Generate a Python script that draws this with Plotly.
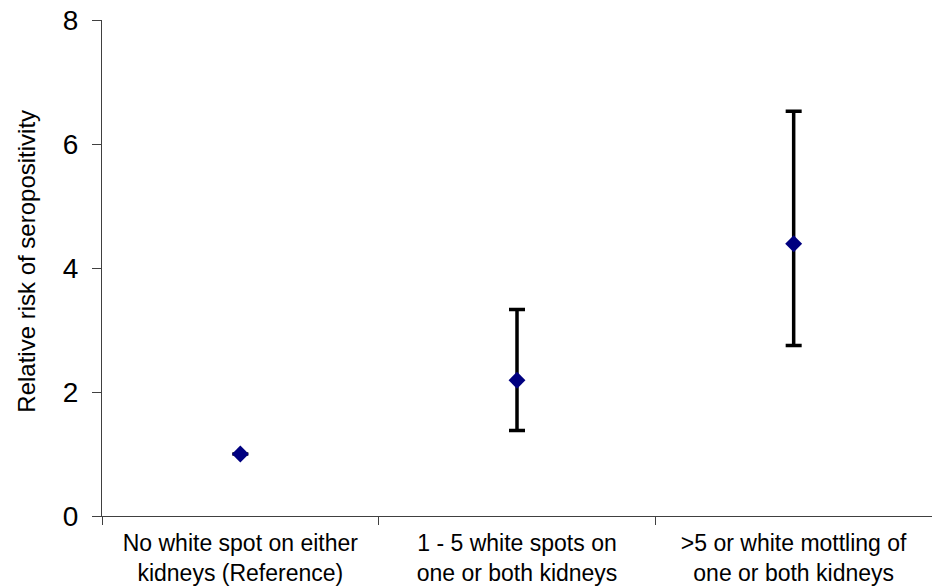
import plotly.graph_objects as go

categories = [
    "No white spot on either<br>kidneys (Reference)",
    "1 - 5 white spots on<br>one or both kidneys",
    ">5 or white mottling of<br>one or both kidneys",
]
relative_risk = [1.0, 2.19, 4.39]
ci_upper = [1.0, 3.33, 6.53]
ci_lower = [1.0, 1.38, 2.75]
y_ticks = [0, 2, 4, 6, 8]
y_title = "Relative risk of seropositivity"

err_plus = [u - v for u, v in zip(ci_upper, relative_risk)]
err_minus = [v - l for v, l in zip(relative_risk, ci_lower)]

fig = go.Figure()
fig.add_trace(go.Scatter(
    x=categories,
    y=relative_risk,
    mode="markers",
    marker=dict(symbol="diamond", size=13, color="#000080"),
    error_y=dict(type="data", symmetric=False, array=err_plus, arrayminus=err_minus,
                 color="black", thickness=3.5, width=8),
    showlegend=False,
))

font_family = "Liberation Sans, Arial, sans-serif"
fig.update_layout(
    width=932, height=588,
    margin=dict(l=102, r=0, t=20, b=72, autoexpand=False),
    paper_bgcolor="white", plot_bgcolor="white",
    font=dict(family=font_family, color="black"),
)
fig.update_xaxes(
    type="category",
    range=[-0.5, len(categories) - 0.5],
    tickson="boundaries",
    automargin=False,
    ticks="outside", ticklen=8, tickcolor="#404040", tickwidth=1,
    ticklabelstandoff=6,
    showline=True, linecolor="#404040", linewidth=1,
    showgrid=False, zeroline=False,
    tickfont=dict(size=23, family=font_family, color="black"),
)
fig.update_yaxes(
    range=[0, 8],
    tickvals=y_ticks,
    automargin=False,
    ticks="outside", ticklen=9, tickcolor="#404040", tickwidth=1,
    ticklabelstandoff=8,
    showline=True, linecolor="#404040", linewidth=1,
    showgrid=False, zeroline=False,
    tickfont=dict(size=28, family=font_family, color="black"),
)
fig.add_annotation(
    text=y_title, textangle=-90,
    xref="paper", yref="paper", x=-0.092, y=0.514,
    xanchor="center", yanchor="middle", showarrow=False,
    font=dict(size=24, family=font_family, color="black"),
)

fig.write_html("out.html", config={"displayModeBar": False},
               post_script="document.body.style.margin='0';")
